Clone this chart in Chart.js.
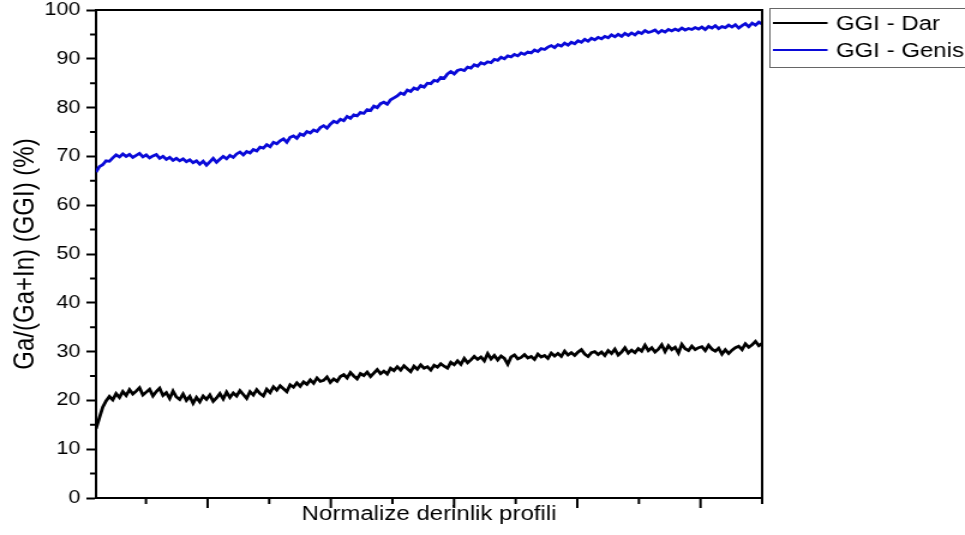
<!DOCTYPE html>
<html lang="tr">
<head>
<meta charset="utf-8">
<title>GGI derinlik profili</title>
<script src="https://cdn.jsdelivr.net/npm/chart.js@4.4.1/dist/chart.umd.min.js"></script>
<style>
  html, body { margin: 0; padding: 0; background: #fff; overflow: hidden; }
  /* grafik biraz yatay genisletilmis halde gosteriliyor */
  #kutu { width: 804px; height: 535px; transform: scaleX(1.2002); transform-origin: 0 0; }
</style>
</head>
<body>
<div id="kutu"><canvas id="myChart" width="804" height="535"></canvas></div>
<script>
// GGI - Dar (siyah) olcum degerleri, %.
const ggiDar = [
  14.2, 16.4, 18.6, 19.9, 20.8, 20.1, 21.4, 20.6, 21.8, 21.0,
  22.2, 21.3, 21.9, 22.6, 21.1, 21.7, 22.3, 20.9, 21.8, 22.5,
  21.0, 21.6, 20.4, 21.9, 20.7, 20.2, 21.3, 20.0, 20.8, 19.4,
  20.6, 19.7, 20.9, 20.2, 21.1, 19.8, 20.5, 21.4, 20.3, 21.7,
  20.6, 21.5, 20.9, 22.0, 21.2, 20.4, 21.8, 21.1, 22.2, 21.4,
  20.9, 22.3, 21.6, 22.8, 22.1, 23.0, 22.4, 21.8, 23.2, 22.7,
  23.6, 22.9, 23.8, 23.3, 24.2, 23.5, 24.6, 23.9, 24.1, 24.8,
  23.7, 24.4, 23.9, 24.9, 25.3, 24.6, 25.7, 25.0, 24.4, 25.5,
  25.1, 25.8, 24.9, 25.6, 26.3, 25.5, 26.0, 25.4, 26.6, 26.1,
  26.9, 26.2, 27.1, 26.5, 25.9, 27.0, 26.4, 27.3, 26.6, 26.9,
  26.2, 27.2, 26.8, 27.5, 27.0, 26.6, 27.8, 27.3, 28.1, 27.4,
  28.6, 27.7, 28.3, 29.0, 28.4, 28.9, 28.1, 29.6, 28.5, 29.2,
  28.3, 29.1, 28.6, 27.4, 28.9, 29.3, 28.5, 28.8, 29.4, 28.7,
  29.0, 28.4, 29.5, 28.9, 29.2, 28.6, 29.7, 29.1, 29.6, 29.0,
  30.1, 29.3, 29.8, 29.2, 29.9, 30.4, 29.5, 29.0, 29.8, 30.0,
  29.4, 29.9, 29.2, 30.2, 29.6, 30.5, 29.3, 29.9, 30.8, 29.7,
  30.3, 29.8, 30.6, 30.1, 31.3, 30.2, 30.8, 29.9, 30.5, 31.4,
  30.0, 31.2, 30.4, 30.9, 29.7, 31.5, 30.6, 30.2, 31.1, 30.4,
  30.8, 31.0, 30.2, 31.3, 30.5, 30.1, 30.7, 29.5, 30.4, 29.6,
  30.3, 30.8, 31.1, 30.4, 31.6, 30.9, 31.4, 32.1, 31.2, 31.7
];

// GGI - Genis (mavi) olcum degerleri, %.
const ggiGenis = [
  66.8, 67.9, 68.3, 69.1, 69.0, 69.7, 70.3, 69.9, 70.5, 70.0,
  70.4, 69.8, 70.2, 70.6, 69.9, 70.3, 69.7, 70.1, 70.4, 69.6,
  70.0, 69.4, 69.8, 69.2, 69.6, 69.1, 69.5, 68.9, 69.3, 68.7,
  69.1, 68.4, 69.0, 68.2, 68.9, 69.6, 68.8, 69.4, 70.0, 69.5,
  70.2, 69.8, 70.5, 70.9, 70.3, 71.0, 70.7, 71.4, 71.1, 71.9,
  71.7, 72.4, 72.0, 72.9, 72.6, 73.2, 73.6, 72.9, 73.9, 74.2,
  73.7, 74.6, 74.3, 75.1, 74.8, 75.4, 75.1, 75.9, 76.3, 75.8,
  76.6, 77.2, 76.9, 77.6, 77.3, 78.2, 77.8, 78.5, 78.3, 79.0,
  78.8, 79.6, 79.4, 80.3, 80.0, 80.8, 81.1, 80.7, 81.6, 82.0,
  82.4, 83.0, 82.7, 83.6, 83.3, 84.0, 83.7, 84.5, 84.2, 85.0,
  84.9, 85.6, 85.4, 86.2, 86.0, 86.9, 87.4, 86.9, 87.6, 87.8,
  87.6, 88.3, 88.1, 88.8, 88.5, 89.2, 88.9, 89.4, 89.2, 89.9,
  89.7, 90.3, 90.0, 90.6, 90.4, 90.9, 90.6, 91.2, 90.9, 91.4,
  91.2, 91.8, 91.5, 92.1, 91.9, 92.4, 92.7, 92.3, 92.9, 92.6,
  93.2, 92.8, 93.4, 93.1, 93.7, 93.4, 94.0, 93.6, 94.2, 93.9,
  94.4, 94.1, 94.6, 94.3, 94.9, 94.5, 95.0, 94.6, 95.2, 94.8,
  95.3, 94.9, 95.5, 95.2, 95.8, 95.4, 95.6, 95.9, 95.3, 95.8,
  95.5, 96.0, 95.7, 96.1, 95.8, 96.3, 95.9, 96.2, 96.0, 96.4,
  96.1, 96.5, 96.0, 96.6, 96.3, 96.8, 96.2, 96.6, 96.4, 96.9,
  96.5, 97.0, 96.3, 96.8, 97.2, 96.6, 97.3, 96.9, 97.5, 97.1
];

// Normalize derinlik: 0 (yuzey) ile 1 (taban) arasi esit aralikli noktalar.
const derinlik = ggiDar.map((_, i) => i / (ggiDar.length - 1));

// Eksen tikleri (x ekseninde etiket yok, sadece cizgiler).
const xAnaTikler = [0.1675, 0.3525, 0.5375, 0.7225, 0.9075];
const xAraTikler = [0.075, 0.26, 0.445, 0.63, 0.815, 1.0];
const yAraTikler = [5, 15, 25, 35, 45, 55, 65, 75, 85, 95];

const yaziTipi = '"Liberation Sans", Arial, sans-serif';

// Ust/sag cerceve ve ara tikleri ciziyor.
const cercevePlugin = {
  id: 'cerceve',
  afterDatasetsDraw(chart) {
    const { ctx, chartArea: a, scales: { x, y } } = chart;
    ctx.save();
    ctx.strokeStyle = '#000';
    ctx.lineWidth = 2;
    ctx.beginPath();
    ctx.moveTo(a.left, a.top);
    ctx.lineTo(a.right, a.top);
    ctx.lineTo(a.right, a.bottom + 1);
    ctx.stroke();

    ctx.beginPath();
    yAraTikler.forEach(v => {
      const py = y.getPixelForValue(v);
      ctx.moveTo(a.left - 5, py);
      ctx.lineTo(a.left, py);
    });
    xAnaTikler.forEach(v => {
      const px = x.getPixelForValue(v);
      ctx.moveTo(px, a.bottom);
      ctx.lineTo(px, a.bottom + 10);
    });
    xAraTikler.forEach(v => {
      const px = x.getPixelForValue(v);
      ctx.moveTo(px, a.bottom);
      ctx.lineTo(px, a.bottom + 6);
    });
    ctx.stroke();
    ctx.restore();
  }
};

// Sag ustteki cerceveli gosterge.
const gostergePlugin = {
  id: 'gosterge',
  afterDraw(chart) {
    const { ctx } = chart;
    const sol = 641.5;
    ctx.save();
    ctx.strokeStyle = '#666';
    ctx.lineWidth = 1;
    ctx.strokeRect(sol, 8.5, 200, 59);
    ctx.font = '20px ' + yaziTipi;
    ctx.textBaseline = 'middle';
    ctx.fillStyle = '#000';
    chart.data.datasets.forEach((ds, i) => {
      const py = 23 + i * 27;
      ctx.strokeStyle = ds.borderColor;
      ctx.lineWidth = 2;
      ctx.beginPath();
      ctx.moveTo(sol + 2.5, py);
      ctx.lineTo(sol + 48, py);
      ctx.stroke();
      ctx.fillText(ds.label, sol + 55, py + 1);
    });
    ctx.restore();
  }
};

const ctx = document.querySelector('#myChart');

new Chart(ctx, {
  type: 'line',
  data: {
    labels: derinlik,
    datasets: [
      {
        label: 'GGI - Dar',
        data: ggiDar,
        borderColor: '#000000',
        borderWidth: 2.8,
        pointRadius: 0,
        tension: 0
      },
      {
        label: 'GGI - Genis',
        data: ggiGenis,
        borderColor: '#0a0ad8',
        borderWidth: 2.8,
        pointRadius: 0,
        tension: 0
      }
    ]
  },
  options: {
    responsive: false,
    animation: false,
    devicePixelRatio: 1,
    layout: { padding: { top: 10, right: 169, bottom: 0, left: 0 } },
    plugins: {
      legend: { display: false },
      tooltip: { enabled: false }
    },
    scales: {
      x: {
        type: 'linear',
        min: 0,
        max: 1,
        grid: { display: false },
        border: { display: true, color: '#000', width: 2 },
        ticks: { display: false },
        title: {
          display: true,
          text: 'Normalize derinlik profili',
          color: '#000',
          font: { family: yaziTipi, size: 20 },
          padding: { top: 0, bottom: 9 }
        },
        afterFit(scale) {
          scale.height = 37;
          scale.paddingLeft = 0;
          scale.paddingRight = 0;
        }
      },
      y: {
        min: 0,
        max: 100,
        ticks: {
          stepSize: 10,
          color: '#000',
          padding: 5,
          font: { family: yaziTipi, size: 18 }
        },
        grid: {
          drawOnChartArea: false,
          drawTicks: true,
          tickLength: 8,
          tickWidth: 2,
          tickColor: '#000'
        },
        border: { display: true, color: '#000', width: 2 },
        title: {
          display: true,
          text: 'Ga/(Ga+In) (GGI) (%)',
          color: '#000',
          font: { family: yaziTipi, size: 24 },
          padding: { top: 7, bottom: 0 }
        },
        afterFit(scale) {
          scale.width = 80;
          scale.paddingTop = 0;
          scale.paddingBottom = 0;
        }
      }
    }
  },
  plugins: [cercevePlugin, gostergePlugin]
});
</script>
</body>
</html>
